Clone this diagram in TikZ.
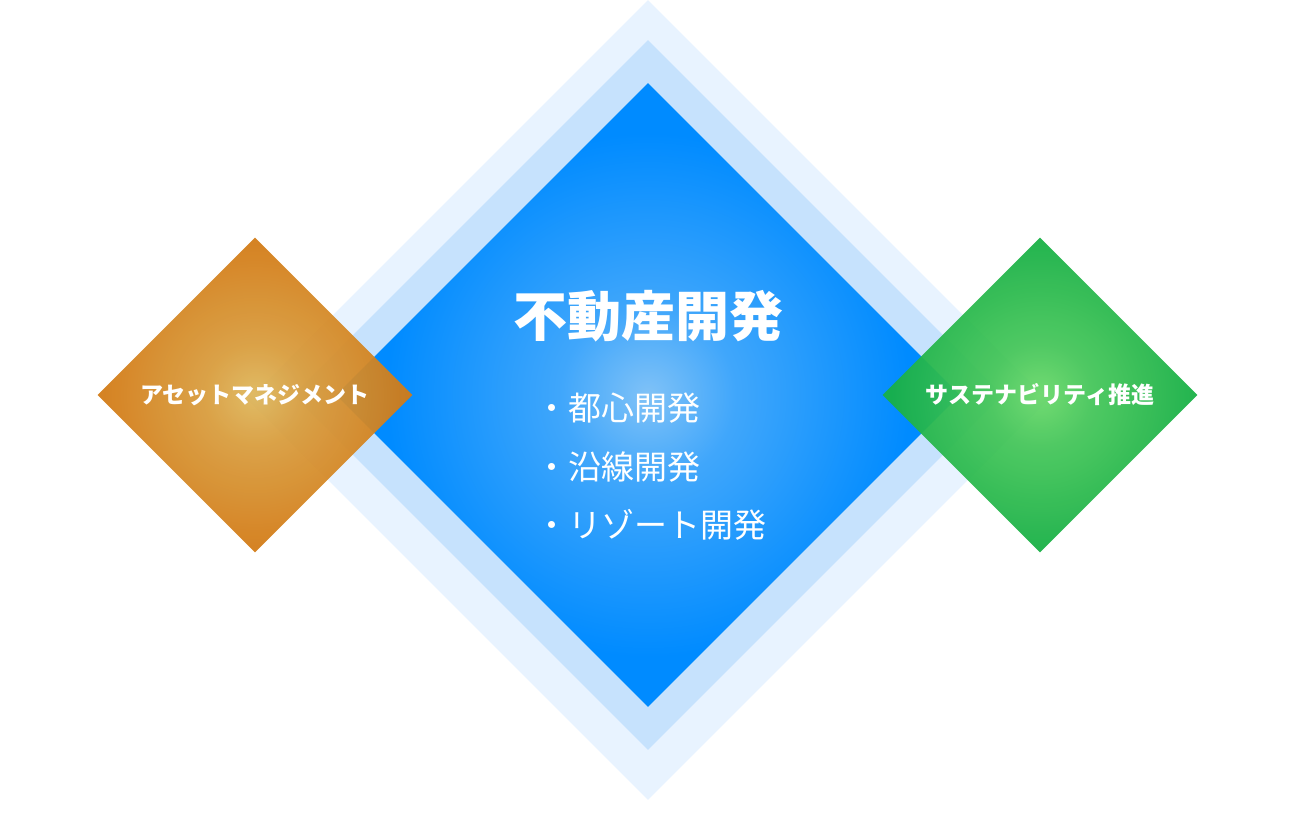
\documentclass[tikz,border=0pt]{standalone}
\usepackage{fontspec}
\newfontfamily\jpfont{Noto Sans CJK JP}
\usetikzlibrary{shapes.geometric,positioning}

\definecolor{haloout}{HTML}{E8F3FF}
\definecolor{haloin}{HTML}{C6E2FD}
\definecolor{devedge}{HTML}{008BFF}
\definecolor{devmid}{HTML}{80C2F7}
\definecolor{assetedge}{HTML}{D27B16}
\definecolor{assetmid}{HTML}{DEB75C}
\definecolor{susedge}{HTML}{18B045}
\definecolor{susmid}{HTML}{6AD86A}

\pgfdeclareradialshading{devglow}{\pgfpointorigin}{%
  color(0bp)=(devmid); color(7bp)=(devedge!50!devmid);
  color(21bp)=(devedge); color(50bp)=(devedge)}
\pgfdeclareradialshading{assetglow}{\pgfpointorigin}{%
  color(0bp)=(assetmid); color(8bp)=(assetedge!45!assetmid);
  color(24bp)=(assetedge); color(50bp)=(assetedge)}
\pgfdeclareradialshading{susglow}{\pgfpointorigin}{%
  color(0bp)=(susmid); color(8bp)=(susedge!45!susmid);
  color(24bp)=(susedge); color(50bp)=(susedge)}

\begin{document}
\begin{tikzpicture}[
x=1pt,y=-1pt,
gem/.style={
  diamond,
  draw=none,
  inner sep=0pt,
  aspect=1
  },
sidegem/.style={
  gem,
  minimum width=315pt,
  minimum height=315pt,
  fill opacity=0.94
  },
sidelabel/.style={
  text=white,
  font=\jpfont\bfseries\fontsize{23}{27}\selectfont
  },
item/.style={
  text=white,
  anchor=west,
  font=\jpfont\fontsize{33}{38}\selectfont
  }
]
\useasboundingbox (0,0) rectangle (1290,840);

% halo behind the main diamond
\node[gem, fill=haloout, minimum width=800pt, minimum height=800pt] (halo1) at (648,400) {};
\node[gem, fill=haloin, minimum width=710pt, minimum height=710pt] (halo2) at (648,395) {};
\node[gem, shading=devglow, minimum width=624pt, minimum height=624pt] (dev) at (648,395) {};

% side diamonds
\node[sidegem, shading=assetglow] (asset) at (255,395) {};
\node[sidegem, shading=susglow] (sus) at (1040,395) {};

\node[sidelabel] (assettext) at (asset.center) {アセットマネジメント};
\node[sidelabel] (sustext) at (sus.center) {サステナビリティ推進};

\node[text=white, font=\jpfont\bfseries\fontsize{54}{60}\selectfont]
  (devtitle) at (648,316) {不動産開発};

\foreach \txt/\yy [count=\ii] in {都心開発/408, 沿線開発/467, リゾート開発/525}
  \node[item] (item\ii) at (532,\yy) {・\txt};
\end{tikzpicture}
\end{document}
